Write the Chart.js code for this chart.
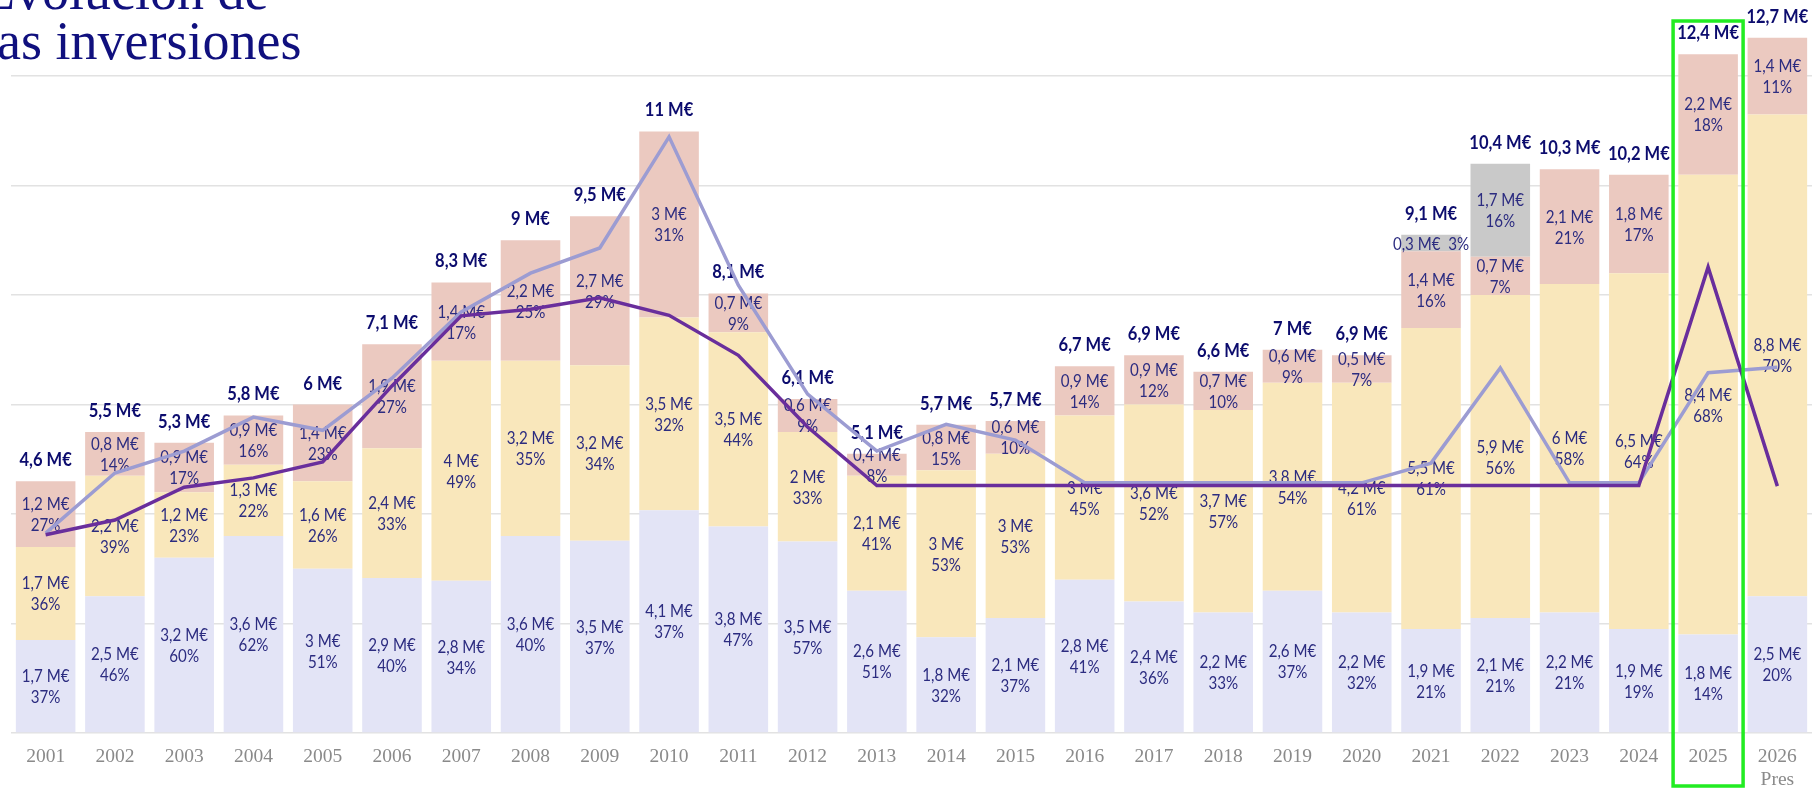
<!DOCTYPE html>
<html lang="es">
<head>
<meta charset="utf-8">
<title>Evolución de las inversiones</title>
<script src="https://cdn.jsdelivr.net/npm/chart.js@4.4.1/dist/chart.umd.min.js"></script>
<style>
  html,body{margin:0;padding:0;background:#fff;overflow:hidden}
  #wrap{position:relative;width:1812px;height:788px}
  #title{position:absolute;left:-18px;top:-34px;z-index:2;white-space:nowrap;
    font:54px/50px "Liberation Serif","Times New Roman",serif;color:#10107e}
  canvas{position:absolute;left:0;top:0}
</style>
</head>
<body>
<div id="wrap">
  <div id="title">Evolución de<br>las inversiones</div>
  <canvas id="chart" width="1812" height="788"></canvas>
</div>
<script>
const years = ['2001','2002','2003','2004','2005','2006','2007','2008','2009','2010','2011','2012','2013',
  '2014','2015','2016','2017','2018','2019','2020','2021','2022','2023','2024','2025',['2026','Pres']];

// bar heights (M€) as drawn
const lowVals   = [1.7,2.5,3.2,3.6,3,2.83,2.78,3.6,3.51,4.07,3.77,3.5,2.6,1.75,2.1,2.8,2.4,2.2,2.6,2.2,1.9,2.1,2.2,1.9,1.8,2.5];
const midVals   = [1.7,2.2,1.2,1.3,1.6,2.37,4.02,3.2,3.21,3.52,3.55,2,2.1,3.05,3,3,3.6,3.7,3.8,4.2,5.5,5.9,6,6.5,8.4,8.8];
const highVals  = [1.2,0.8,0.9,0.9,1.4,1.9,1.43,2.2,2.72,3.4,0.71,0.6,0.4,0.83,0.6,0.9,0.9,0.7,0.6,0.5,1.4,0.7,2.1,1.8,2.2,1.4];
const otherVals = [null,null,null,null,null,null,null,null,null,null,null,null,null,null,null,null,null,null,null,null,0.3,1.7,null,null,null,null];

// amounts and shares as printed on the bars
const lowAmt   = [1.7,2.5,3.2,3.6,3,2.9,2.8,3.6,3.5,4.1,3.8,3.5,2.6,1.8,2.1,2.8,2.4,2.2,2.6,2.2,1.9,2.1,2.2,1.9,1.8,2.5];
const midAmt   = [1.7,2.2,1.2,1.3,1.6,2.4,4,3.2,3.2,3.5,3.5,2,2.1,3,3,3,3.6,3.7,3.8,4.2,5.5,5.9,6,6.5,8.4,8.8];
const highAmt  = [1.2,0.8,0.9,0.9,1.4,1.9,1.4,2.2,2.7,3,0.7,0.6,0.4,0.8,0.6,0.9,0.9,0.7,0.6,0.5,1.4,0.7,2.1,1.8,2.2,1.4];
const otherAmt = otherVals;
const lowPct   = [37,46,60,62,51,40,34,40,37,37,47,57,51,32,37,41,36,33,37,32,21,21,21,19,14,20];
const midPct   = [36,39,23,22,26,33,49,35,34,32,44,33,41,53,53,45,52,57,54,61,61,56,58,64,68,70];
const highPct  = [27,14,17,16,23,27,17,25,29,31,9,9,8,15,10,14,12,10,9,7,16,7,21,17,18,11];
const otherPct = [null,null,null,null,null,null,null,null,null,null,null,null,null,null,null,null,null,null,null,null,3,16,null,null,null,null];
const totals   = [4.6,5.5,5.3,5.8,6,7.1,8.3,9,9.5,11,8.1,6.1,5.1,5.7,5.7,6.7,6.9,6.6,7,6.9,9.1,10.4,10.3,10.2,12.4,12.7];

// the two trend lines
const lightLine = [3.65,4.75,5.15,5.77,5.53,6.48,7.69,8.4,8.86,10.89,8.18,6.19,5.15,5.64,5.35,4.57,4.57,4.57,4.57,4.57,4.93,6.67,4.57,4.57,6.58,6.68];
const darkLine  = [3.62,3.89,4.49,4.66,4.95,6.34,7.62,7.74,7.95,7.63,6.9,5.59,4.52,4.52,4.52,4.52,4.52,4.52,4.52,4.52,4.52,4.52,4.52,4.52,8.51,4.51];

const highlight = '2025';
const Y_MAX = 13.39;

const amounts = [lowAmt, midAmt, highAmt, otherAmt];
const shares  = [lowPct, midPct, highPct, otherPct];
const euro = v => String(v).replace('.', ',') + ' M€';

function label(ctx, s, x, yMid, bold){
  ctx.save();
  ctx.font = bold ? '700 19px Lato, "Liberation Sans", sans-serif' : '400 18px Lato, "Liberation Sans", sans-serif';
  ctx.translate(x, yMid + (bold ? 7 : 6.5));
  ctx.scale(bold ? 0.87 : 0.84, 1);
  ctx.textAlign = 'center'; ctx.textBaseline = 'alphabetic';
  ctx.fillStyle = bold ? '#0c0c6e' : '#2c2c80';
  ctx.fillText(s, 0, 0);
  ctx.restore();
}

function drawBarLabels(chart){
  const ctx = chart.ctx;
  const tops = [];
  for(let d = 0; d < 4; d++){
    const meta = chart.getDatasetMeta(d);
    meta.data.forEach((el, i) => {
      const amt = amounts[d][i];
      if(amt == null) return;
      const mid = (el.y + el.base) / 2;
      if(Math.abs(el.base - el.y) < 18){
        label(ctx, euro(amt) + '  ' + shares[d][i] + '%', el.x, mid, false);
      } else {
        label(ctx, euro(amt), el.x, mid - 10.5, false);
        label(ctx, shares[d][i] + '%', el.x, mid + 10.5, false);
      }
      tops[i] = tops[i] == null ? el.y : Math.min(tops[i], el.y);
    });
  }
  const x = chart.scales.x;
  totals.forEach((t, i) => label(ctx, euro(t), x.getPixelForValue(i), tops[i] - 22, true));
}

const BarLabels = {
  id:'barLabels',
  beforeDatasetsDraw(chart){ chart.$labelsDone = false; },
  beforeDatasetDraw(chart, args){
    if(chart.$labelsDone || args.meta.type !== 'line') return;
    chart.$labelsDone = true;
    drawBarLabels(chart);
  }
};

const HighlightBox = {
  id:'highlightBox',
  afterDraw(chart){
    const {ctx, scales:{x}} = chart;
    const cx = x.getPixelForValue(years.indexOf(highlight));
    ctx.save();
    ctx.strokeStyle = '#22ec22'; ctx.lineWidth = 3.5;
    ctx.strokeRect(cx - 35, 21, 70, 765);
    ctx.restore();
  }
};

const bar = (data, color) => ({type:'bar', data, backgroundColor:color, borderWidth:0,
  stack:'s', order:2, barPercentage:0.86, categoryPercentage:1});
const line = (data, color, order) => ({type:'line', data, borderColor:color, borderWidth:3.5,
  pointRadius:0, tension:0, fill:false, yAxisID:'y2', order});

new Chart(document.getElementById('chart').getContext('2d'), {
  data:{
    labels: years,
    datasets:[
      bar(lowVals,   '#e3e4f6'),
      bar(midVals,   '#f9e7bb'),
      bar(highVals,  '#ebc9c0'),
      bar(otherVals, '#c9c9c9'),
      line(lightLine, '#9c9cd2', 1),
      line(darkLine,  '#692e9c', 0)
    ]
  },
  options:{
    responsive:false, animation:false, events:[],
    layout:{padding:{left:11, right:-3, top:0, bottom:0}},
    plugins:{legend:{display:false}, tooltip:{enabled:false}},
    scales:{
      x:{stacked:true, grid:{display:false, drawTicks:false}, border:{display:false},
        ticks:{color:'#8a8a8a', font:{family:'"Liberation Serif", "Times New Roman", serif', size:19.5},
          padding:12, maxRotation:0, autoSkip:false},
        afterFit(s){ s.height = 55; }},
      y:{stacked:true, min:0, max:Y_MAX, border:{display:false},
        ticks:{display:false, stepSize:2, includeBounds:false},
        grid:{color:'#e2e2e2', lineWidth:1.5, drawTicks:false}},
      y2:{display:false, min:0, max:Y_MAX}
    }
  },
  plugins:[BarLabels, HighlightBox]
});
</script>
</body>
</html>
